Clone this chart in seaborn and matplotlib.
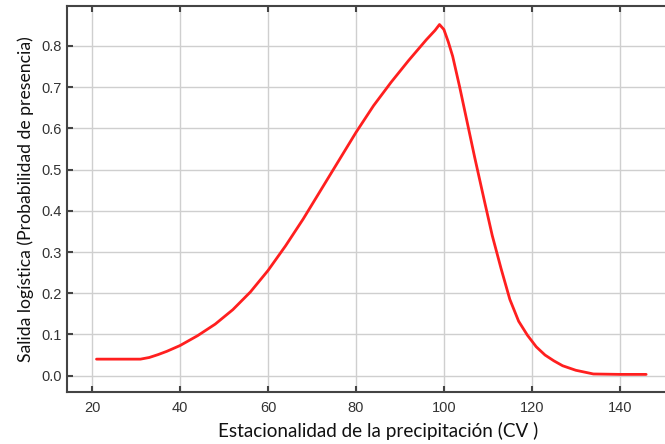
import matplotlib
matplotlib.use("Agg")
import matplotlib.pyplot as plt
import seaborn as sns
import pandas as pd

x_vals = [21, 25, 31, 33, 35, 37, 40, 44, 48, 52, 56, 60, 64, 68, 72, 76, 80, 84, 88, 92, 96, 98, 99,
          100, 101, 102, 103.6, 105, 107, 109.3, 111, 113, 115, 117, 119, 121, 123, 125, 127, 130, 134, 140, 146]
y_vals = [0.040, 0.040, 0.040, 0.044, 0.051, 0.059, 0.073, 0.097, 0.125, 0.160, 0.203, 0.255, 0.315, 0.380,
          0.450, 0.520, 0.590, 0.655, 0.712, 0.765, 0.815, 0.838, 0.852,
          0.840, 0.810, 0.775, 0.700, 0.630, 0.530, 0.420, 0.340, 0.260, 0.185, 0.132, 0.098, 0.070, 0.050,
          0.036, 0.024, 0.013, 0.004, 0.003, 0.003]

x_ticks = [20, 40, 60, 80, 100, 120, 140]
y_ticks = [0.0, 0.1, 0.2, 0.3, 0.4, 0.5, 0.6, 0.7, 0.8]

df = pd.DataFrame({"x": x_vals, "y": y_vals})

sns.set_theme(style="white")
fig = plt.figure(figsize=(6.65, 4.44), dpi=100)
ax = fig.add_axes([0.1008, 0.1178, 0.935, 0.8687])

sns.lineplot(data=df, x="x", y="y", ax=ax, color="#ff1f1f", linewidth=2.0)

ax.set_xlim(14.3, 155.7)
ax.set_ylim(-0.039, 0.897)
ax.set_xticks(x_ticks)
ax.set_yticks(y_ticks)
ax.set_xticklabels([str(t) for t in x_ticks], family="Liberation Sans")
ax.set_yticklabels([f"{t:.1f}" for t in y_ticks], family="Liberation Sans")
ax.grid(True, color="#cfcfcf", linewidth=1.0)
ax.set_axisbelow(True)

for side in ["left", "bottom", "top"]:
    ax.spines[side].set_visible(True)
    ax.spines[side].set_color("#444444")
    ax.spines[side].set_linewidth(1.5)
ax.spines["right"].set_visible(False)

ax.tick_params(axis="both", direction="in", length=4, width=1.5, color="#444444",
               labelsize=10.5, labelcolor="#333333", top=True, left=True, bottom=True)
ax.tick_params(axis="x", pad=7)
ax.tick_params(axis="y", pad=4)

ax.set_xlabel("Estacionalidad de la precipitación (CV )", fontsize=13.6, family="Lato",
              color="#111111", labelpad=5)
ax.set_ylabel("Salida logística (Probabilidad de presencia)", fontsize=12.7, family="Lato",
              color="#111111", labelpad=5)

fig.savefig("out.png", dpi=100)
